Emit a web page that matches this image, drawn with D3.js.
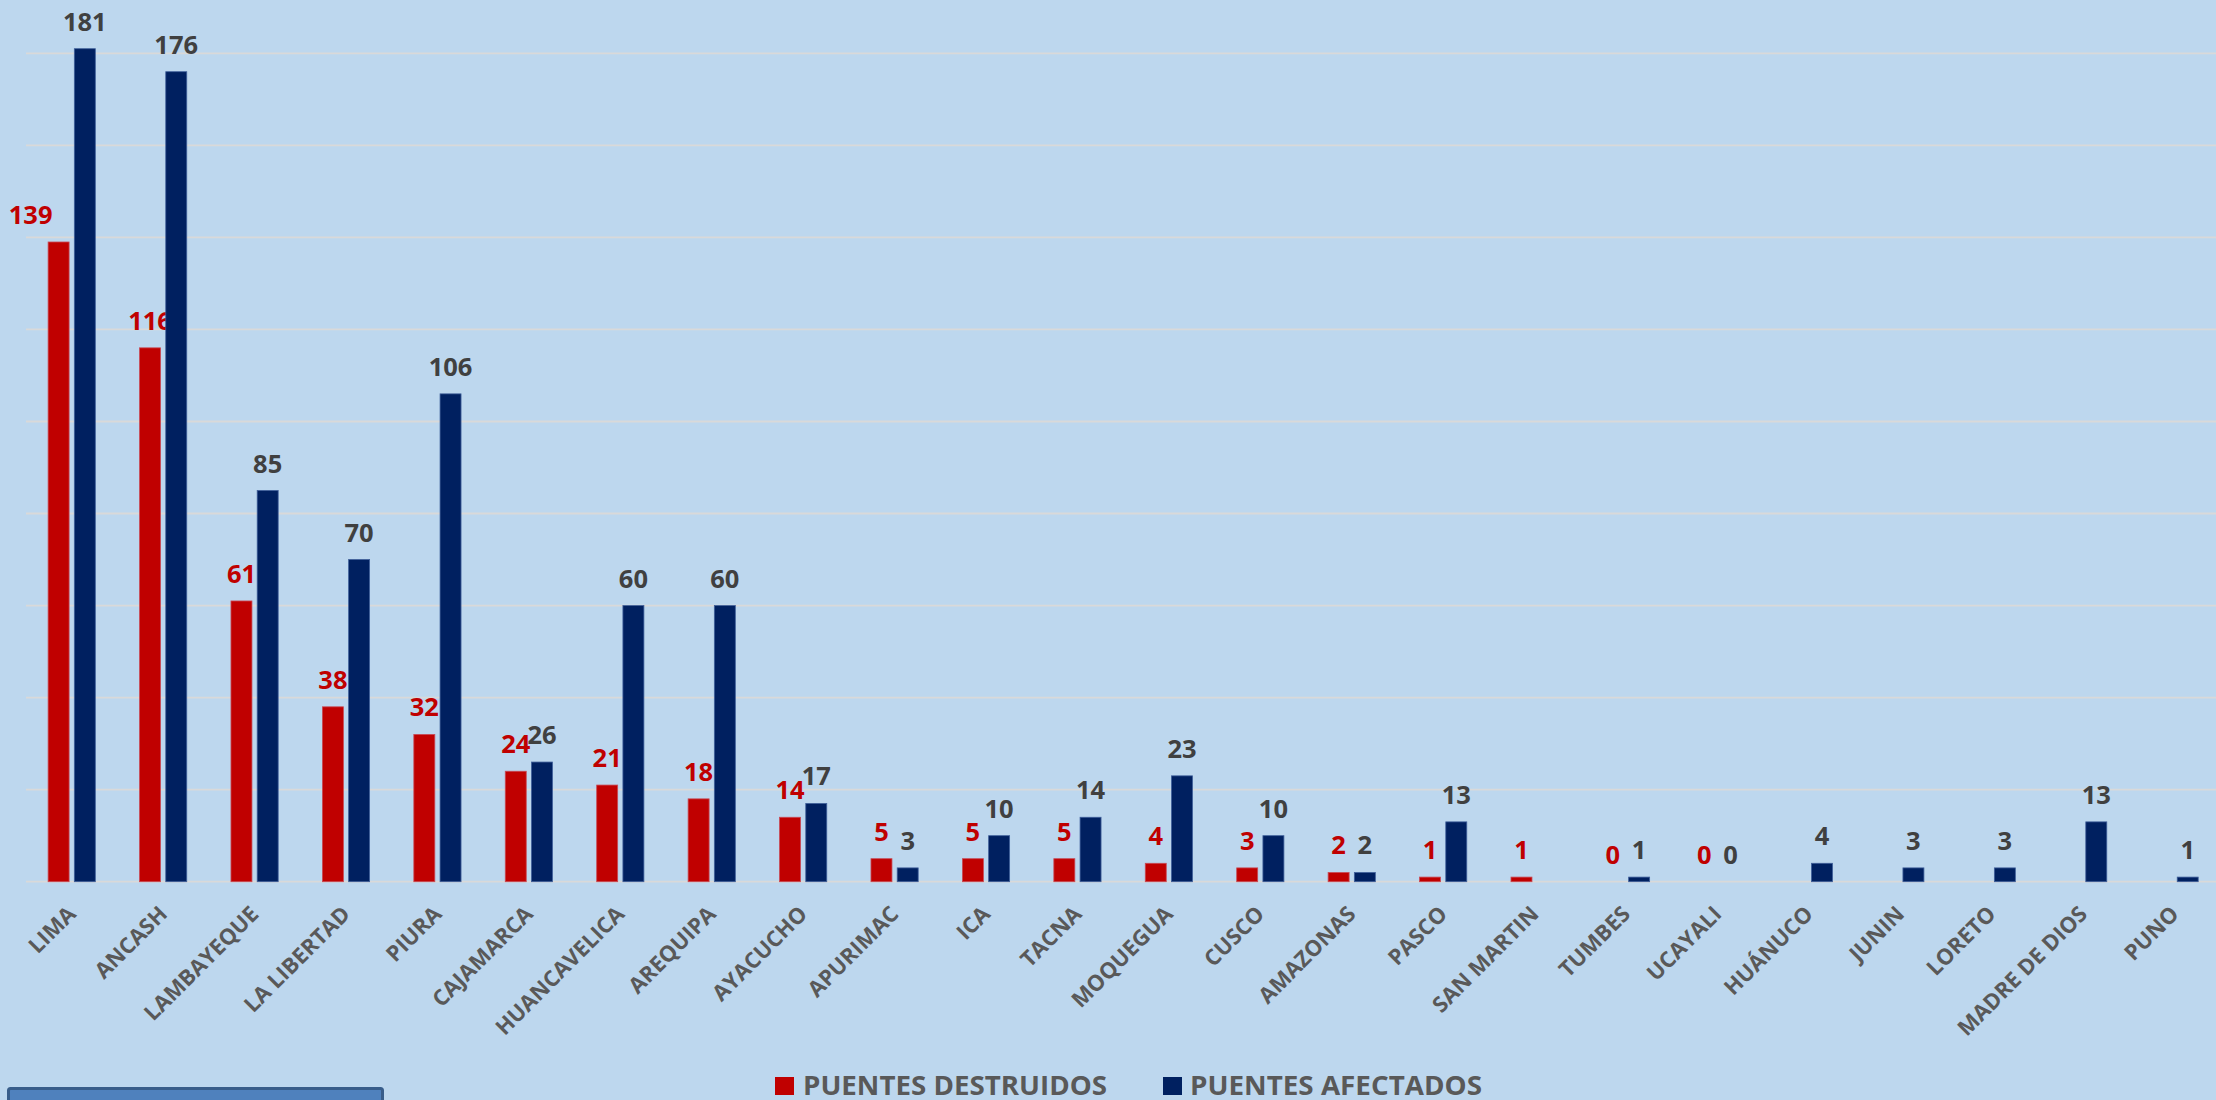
<!DOCTYPE html>
<html>
<head>
<meta charset="utf-8">
<script src="https://cdn.jsdelivr.net/npm/d3@7"></script>
<style>
  html, body { margin: 0; padding: 0; background: #BDD7EE; overflow: hidden; }
  svg { display: block; }
</style>
</head>
<body>
<svg id="chart" width="2216" height="1100"></svg>
<script>
// ---- data ----
const categories = ["LIMA","ANCASH","LAMBAYEQUE","LA LIBERTAD","PIURA","CAJAMARCA","HUANCAVELICA","AREQUIPA","AYACUCHO","APURIMAC","ICA","TACNA","MOQUEGUA","CUSCO","AMAZONAS","PASCO","SAN MARTIN","TUMBES","UCAYALI","HUÁNUCO","JUNIN","LORETO","MADRE DE DIOS","PUNO"];
const destruidos = [139,116,61,38,32,24,21,18,14,5,5,5,4,3,2,1,1,0,0,null,null,null,null,null];
const afectados  = [181,176,85,70,106,26,60,60,17,3,10,14,23,10,2,13,null,1,0,4,3,3,13,1];
const seriesNames = ["PUENTES DESTRUIDOS","PUENTES AFECTADOS"];
const gridTicks = [0,20,40,60,80,100,120,140,160,180];

// ---- layout ----
const W = 2216, H = 1100;
const plotLeft = 26, step = 91.43;
const svg = d3.select("#chart");
svg.append("rect").attr("width", W).attr("height", H).attr("fill", "#BDD7EE");

const x0 = d3.scaleBand().domain(categories).range([plotLeft, plotLeft + step * categories.length]).padding(0);
const keys = ["d","a"];
const x1 = d3.scaleBand().domain(keys)
  .range([x0.bandwidth()/2 - 23.6, x0.bandwidth()/2 + 23.6]).paddingInner(0.2);
const y = d3.scaleLinear().domain([0,180]).range([881.7, 53.3]);

const colors = { d: "#C00000", a: "#002060" };
const labelColors = { d: "#C00000", a: "#404040" };

// gridlines
svg.append("g").selectAll("line").data(gridTicks).join("line")
  .attr("x1", plotLeft).attr("x2", W)
  .attr("y1", d => y(d)).attr("y2", d => y(d))
  .attr("stroke", "#D9D9D9").attr("stroke-width", 1.8);

const rows = categories.map((c, i) => ({ c, i, d: destruidos[i], a: afectados[i] }));

const groups = svg.append("g").selectAll("g").data(rows).join("g")
  .attr("transform", r => `translate(${x0(r.c)},0)`);

keys.forEach(k => {
  groups.filter(r => r[k] !== null).append("rect")
    .attr("x", x1(k)).attr("width", x1.bandwidth())
    .attr("y", r => y(r[k])).attr("height", r => y(0) - y(r[k]))
    .attr("fill", colors[k])
    .attr("stroke", k === "a" ? "#3f5f9a" : "#c84a55")
    .attr("stroke-width", 0.8)
    .attr("stroke-opacity", r => r[k] > 0 ? 1 : 0);
  groups.filter(r => r[k] !== null).append("text")
    .attr("x", r => x1(k) + x1.bandwidth()/2 + (k === "d" && r.i === 0 ? -28 : 0))
    .attr("y", r => y(r[k]) - 18)
    .attr("text-anchor", "middle")
    .attr("font-family", "'Open Sans', sans-serif")
    .attr("font-weight", 700)
    .attr("font-size", 25.5)
    .attr("fill", labelColors[k])
    .text(r => r[k]);
});

// category axis labels
svg.append("g").selectAll("text").data(categories).join("text")
  .attr("transform", c => `translate(${x0(c) + x0.bandwidth()/2},910) rotate(-45)`)
  .attr("text-anchor", "end")
  .attr("dy", "0.35em")
  .attr("font-family", "'Open Sans', sans-serif")
  .attr("font-weight", 700)
  .attr("font-size", 22)
  .attr("fill", "#595959")
  .text(c => c);

// legend
const legend = [
  { name: seriesNames[0], color: colors.d, sx: 775, tx: 803, tw: 304 },
  { name: seriesNames[1], color: colors.a, sx: 1163, tx: 1190, tw: 292 }
];
const lg = svg.append("g").selectAll("g").data(legend).join("g");
lg.append("rect").attr("x", d => d.sx).attr("y", 1077).attr("width", 19).attr("height", 18).attr("fill", d => d.color);
lg.append("text").attr("x", d => d.tx).attr("y", 1094.5)
  .attr("font-family", "'Open Sans', sans-serif").attr("font-weight", 700).attr("font-size", 27)
  .attr("textLength", d => d.tw).attr("lengthAdjust", "spacingAndGlyphs")
  .attr("fill", "#595959").text(d => d.name);

// partially visible box at bottom-left
svg.append("rect").attr("x", 8.5).attr("y", 1088.5).attr("width", 374).attr("height", 40)
  .attr("rx", 2).attr("fill", "#4F81BD").attr("stroke", "#385D8A").attr("stroke-width", 3);
</script>
</body>
</html>
